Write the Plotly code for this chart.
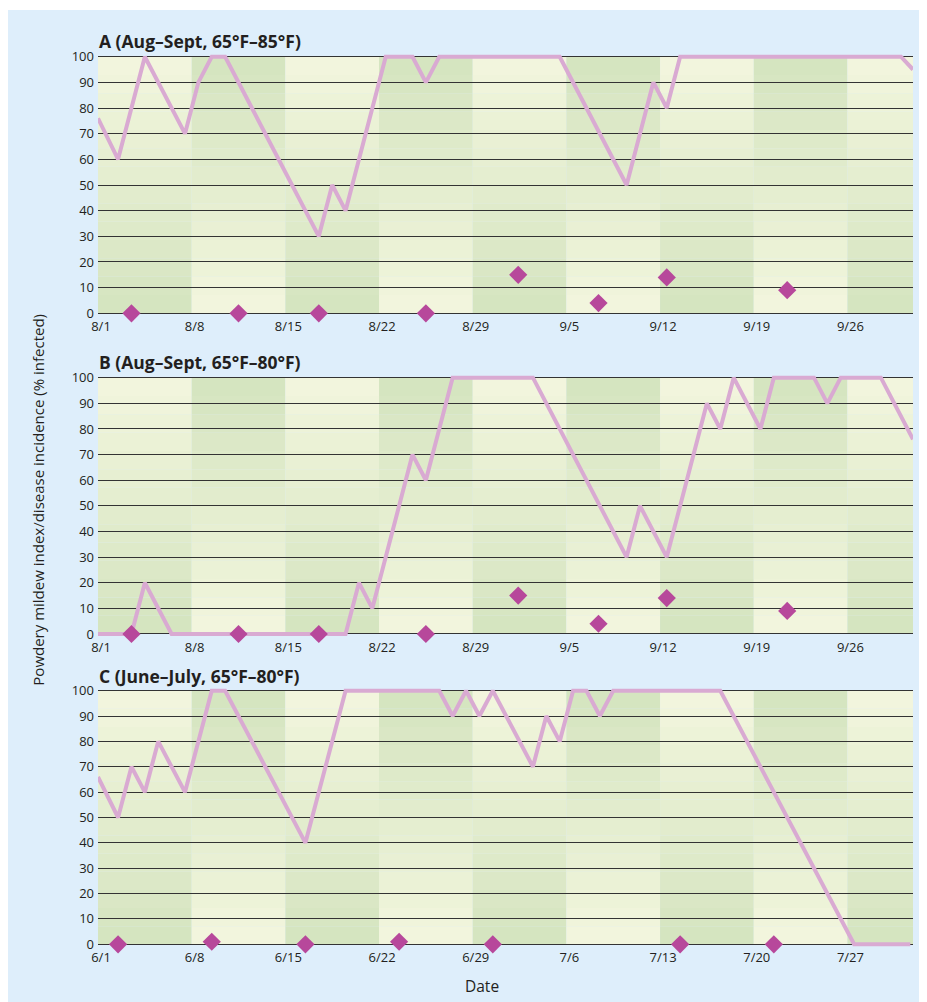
import plotly.graph_objects as go

# ---------------- data ----------------
tick_days = [0, 7, 14, 21, 28, 35, 42, 49, 56]
ticks_aug = ["8/1", "8/8", "8/15", "8/22", "8/29", "9/5", "9/12", "9/19", "9/26"]
ticks_jun = ["6/1", "6/8", "6/15", "6/22", "6/29", "7/6", "7/13", "7/20", "7/27"]

# Panel A (Aug-Sept, 65F-85F) powdery mildew index, x = days after first date
a_day = [0, 1.5, 3.5, 6.5, 7.5, 8.5, 9.5, 16.5, 17.5, 18.5, 21.5, 23.5, 24.5, 25.5,
         34.5, 39.5, 41.5, 42.5, 43.5, 60.0, 60.9]
a_val = [76, 60, 100, 70, 90, 100, 100, 30, 50, 40, 100, 100, 90, 100,
         100, 50, 90, 80, 100, 100, 95]

# Panel B (Aug-Sept, 65F-80F)
b_day = [0, 2.5, 3.5, 5.5, 18.5, 19.5, 20.5, 23.5, 24.5, 26.5, 32.5, 39.5, 40.5,
         42.5, 45.5, 46.5, 47.5, 49.5, 50.5, 53.5, 54.5, 55.5, 58.5, 60.9]
b_val = [0, 0, 20, 0, 0, 20, 10, 70, 60, 100, 100, 30, 50,
         30, 90, 80, 100, 80, 100, 100, 90, 100, 100, 76]

# Panel C (June-July, 65F-80F)
c_day = [0, 1.5, 2.5, 3.5, 4.5, 6.5, 8.5, 9.5, 15.5, 18.5, 25.5, 26.5, 27.5, 28.5,
         29.5, 32.5, 33.5, 34.5, 35.5, 36.5, 37.5, 38.5, 46.5, 56.5, 60.7]
c_val = [66, 50, 70, 60, 80, 60, 100, 100, 40, 100, 100, 90, 100, 90,
         100, 70, 90, 80, 100, 100, 90, 100, 100, 0, 0]

# Disease incidence (diamonds)
dia_ab_day = [2.5, 10.5, 16.5, 24.5, 31.4, 37.4, 42.5, 51.5]
dia_ab_val = [0, 0, 0, 0, 15, 4, 14, 9]
dia_c_day = [1.5, 8.5, 15.5, 22.5, 29.5, 43.5, 50.5]
dia_c_val = [0, 1, 0, 1, 0, 0, 0]

titles = ["A (Aug\u2013Sept, 65\u00b0F\u201385\u00b0F)",
          "B (Aug\u2013Sept, 65\u00b0F\u201380\u00b0F)",
          "C (June\u2013July, 65\u00b0F\u201380\u00b0F)"]

# ---------------- layout geometry ----------------
# the page body adds an 8 px margin; positions below are page pixels
OFF = 8
W, H = 927 - OFF, 1002 - OFF
ML = 98.3 - OFF
MR = W - (912.7 - OFF)
PW = W - ML - MR
XMAX = 60.9
PAD = 1.5

def px_x(p):
    return (p - OFF - ML) / PW

def px_y(p):
    return (H - (p - OFF)) / H

# page pixel rows of the 100 and 0 gridlines for each panel
panel_px = [(56.7, 313.3), (377.7, 634.0), (690.7, 944.3)]
title_px = [41, 362, 675.5]

LIGHT = (243, 246, 222)
DARK = (212, 228, 191)
NSTEP = 14
FONT = "Open Sans"
TXT = "#231f20"

fig = go.Figure()
shapes = []
annotations = []

# blue card background (starts 2 px below the figure top)
shapes.append(dict(type="rect", xref="paper", yref="paper",
                   x0=px_x(0), x1=px_x(W + 40), y0=px_y(H + 40), y1=px_y(10),
                   fillcolor="#DEEEFB", line=dict(width=0), layer="below"))

series = [(a_day, a_val, dia_ab_day, dia_ab_val, ticks_aug),
          (b_day, b_val, dia_ab_day, dia_ab_val, ticks_aug),
          (c_day, c_val, dia_c_day, dia_c_val, ticks_jun)]

bounds = tick_days + [XMAX]

for i, (ld, lv, dd, dv, tt) in enumerate(series):
    sfx = "" if i == 0 else str(i + 1)
    xa, ya = "x" + sfx, "y" + sfx
    top100, bot0 = panel_px[i]
    ppu = (bot0 - top100) / 100.0
    top = top100 - PAD * ppu
    bot = bot0 + PAD * ppu

    fig.update_layout(**{
        "xaxis" + sfx: dict(domain=[0, 1], range=[0, XMAX], anchor=ya,
                            tickvals=tick_days, ticktext=tt, showgrid=False,
                            zeroline=False, showline=False, ticks="",
                            ticklabelshift=3, automargin=False,
                            tickfont=dict(family=FONT, size=13, color=TXT)),
        "yaxis" + sfx: dict(domain=[px_y(bot), px_y(top)], range=[-PAD, 100 + PAD],
                            anchor=xa, tickvals=list(range(0, 101, 10)),
                            showgrid=True, gridcolor="#333333", gridwidth=1.4,
                            zeroline=False, showline=False, ticks="",
                            ticklabelstandoff=3, automargin=False,
                            tickfont=dict(family=FONT, size=13, color=TXT)),
    })

    # weekly background columns with opposing vertical gradients
    for k in range(len(bounds) - 1):
        for s in range(NSTEP):
            t = (s + 0.5) / NSTEP
            if k % 2 == 0:
                c = [DARK[j] + (LIGHT[j] - DARK[j]) * t for j in range(3)]
            else:
                c = [LIGHT[j] + (DARK[j] - LIGHT[j]) * t for j in range(3)]
            shapes.append(dict(type="rect", xref=xa, yref=ya,
                               x0=bounds[k], x1=bounds[k + 1],
                               y0=100 * s / NSTEP, y1=100 * (s + 1) / NSTEP,
                               fillcolor="rgb(%d,%d,%d)" % tuple(int(round(v)) for v in c),
                               line=dict(width=0), layer="below"))

    fig.add_trace(go.Scatter(x=ld, y=lv, mode="lines", xaxis=xa, yaxis=ya,
                             line=dict(color="#D9AAD2", width=4),
                             showlegend=False, hoverinfo="skip"))
    fig.add_trace(go.Scatter(x=dd, y=dv, mode="markers", xaxis=xa, yaxis=ya,
                             marker=dict(symbol="diamond", size=14, color="#B7489B",
                                         line=dict(width=0)),
                             cliponaxis=False, showlegend=False, hoverinfo="skip"))

    annotations.append(dict(text="<b>%s</b>" % titles[i], xref="paper", yref="paper",
                            x=px_x(97), y=px_y(title_px[i]), xanchor="left",
                            yanchor="middle", showarrow=False,
                            font=dict(family=FONT, size=17.5, color=TXT)))

annotations.append(dict(text="Date", xref="paper", yref="paper",
                        x=px_x(482), y=px_y(986), xanchor="center", yanchor="middle",
                        showarrow=False, font=dict(family=FONT, size=15.5, color=TXT)))
annotations.append(dict(text="Powdery mildew index/disease incidence (% infected)",
                        xref="paper", yref="paper", x=px_x(38), y=px_y(500),
                        xanchor="center", yanchor="middle", textangle=-90,
                        showarrow=False, font=dict(family=FONT, size=15, color=TXT)))

fig.update_layout(width=W, height=H, margin=dict(l=ML, r=MR, t=0, b=0),
                  paper_bgcolor="white", plot_bgcolor="rgba(0,0,0,0)",
                  shapes=shapes, annotations=annotations, showlegend=False)

fig.write_html("out.html")
